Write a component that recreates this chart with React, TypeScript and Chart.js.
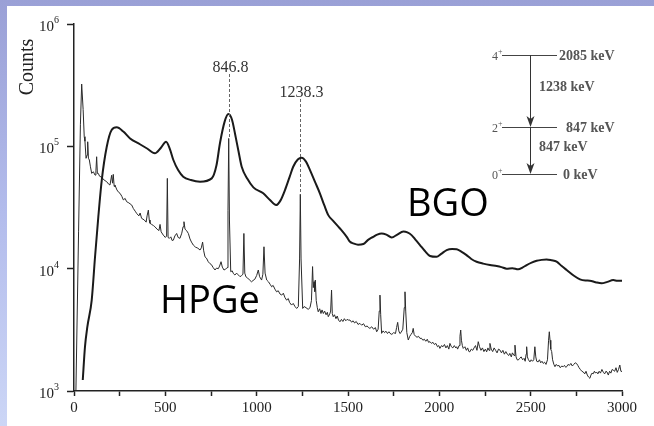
import { useEffect, useRef } from 'react';
import { Chart, registerables } from 'chart.js';

Chart.register(...registerables);

// ---- Data (energy in keV, counts) ----
const bgoPoints: [number, number][] = [
  [48, 1230], [60, 2290], [73, 3340], [97, 5540], [115, 12400], [133, 26400], [152, 53000], [179, 98700],
  [206, 136000], [234, 143000], [270, 132000], [307, 116000], [361, 104000], [400, 96000], [443, 87700],
  [475, 97000], [504, 109000], [525, 95000], [544, 77300], [570, 64000], [598, 56500], [640, 53000],
  [690, 51400], [754, 54700], [780, 70000], [799, 106000], [825, 160000], [845, 184000], [865, 165000],
  [881, 128000], [900, 92000], [918, 68100], [950, 54000], [982, 46200], [1036, 41300], [1073, 36400],
  [1106, 33100], [1130, 36000], [1155, 43900], [1180, 56000], [1200, 68100], [1225, 78000], [1246, 80700],
  [1270, 75000], [1292, 64000], [1320, 51000], [1346, 41300], [1370, 33000], [1392, 27400], [1420, 24500],
  [1456, 21300], [1493, 18200], [1511, 16600], [1529, 16100], [1555, 15700], [1584, 15900], [1610, 17200],
  [1638, 18200], [1660, 19000], [1684, 19400], [1710, 19000], [1739, 18000], [1770, 19000], [1803, 20100],
  [1825, 19800], [1848, 18800], [1870, 17200], [1894, 15600], [1920, 14000], [1949, 12700], [1985, 12500],
  [2010, 13200], [2040, 14200], [2070, 14500], [2095, 14400], [2120, 13800], [2149, 12900], [2175, 12000],
  [2204, 11400], [2240, 11000], [2277, 10700], [2314, 10500], [2340, 10300], [2368, 10000], [2400, 10100],
  [2432, 9870], [2455, 10200], [2478, 10700], [2505, 11200], [2533, 11600], [2560, 11800], [2587, 11900],
  [2615, 11700], [2642, 11400], [2670, 10500], [2697, 9750], [2735, 8800], [2770, 8180], [2800, 8000],
  [2824, 7970], [2855, 7750], [2888, 7590], [2920, 7800], [2952, 8080], [2975, 7950], [3003, 7970],
];

const hpgePoints: [number, number][] = [
  [10, 900], [25, 20000], [35, 150000], [42, 323000], [50, 200000], [56, 120000], [60, 110000], [66, 79800],
  [72, 85000], [75, 109000], [79, 80000], [84, 77300], [90, 68000], [97, 60100], [106, 62000], [115, 58200],
  [120, 63000], [124, 82200], [128, 60000], [133, 60100], [140, 57000], [152, 55800], [165, 53000],
  [179, 51400], [190, 49000], [197, 48300], [206, 58000], [211, 50000], [215, 59000], [220, 47000],
  [224, 48300], [235, 44000], [245, 42000], [252, 41300], [262, 39000], [270, 36500], [280, 37500],
  [288, 35300], [300, 34500], [316, 33100], [325, 31000], [335, 29500], [343, 28300], [355, 27000],
  [362, 28500], [370, 25800], [385, 25000], [395, 24000], [400, 27000], [407, 30100], [412, 25000],
  [416, 23500], [425, 23000], [435, 22500], [443, 22000], [455, 21000], [465, 20500], [471, 23000],
  [477, 20000], [489, 18800], [500, 18000], [507, 18500], [511, 54700], [515, 18000], [522, 17700],
  [530, 18200], [537, 17000], [544, 17100], [552, 18500], [562, 19400], [570, 18000], [580, 17700],
  [590, 19500], [597, 22000], [602, 24200], [608, 21000], [616, 20500], [626, 19400], [635, 17500],
  [643, 16500], [653, 15600], [665, 15000], [678, 14700], [690, 14200], [697, 14800], [704, 16500],
  [710, 14000], [717, 12500], [725, 12200], [735, 11400], [744, 11000], [752, 10800], [762, 10200],
  [772, 9750], [780, 10100], [790, 10000], [797, 10500], [805, 11400], [812, 10300], [821, 9750],
  [830, 9900], [838, 10200], [843, 30000], [847, 116000], [851, 25000], [858, 9450], [866, 9600],
  [873, 9100], [881, 8870], [890, 9200], [899, 8900], [909, 8600], [918, 8800], [925, 9000], [930, 19400],
  [935, 9200], [941, 8590], [950, 8400], [960, 8100], [972, 7810], [980, 8000], [990, 8200], [1000, 8800],
  [1009, 9750], [1016, 8600], [1027, 8070], [1034, 9000], [1040, 15100], [1046, 9200], [1055, 8070],
  [1065, 7800], [1075, 7400], [1082, 7110], [1090, 7300], [1100, 6800], [1109, 6470], [1118, 6600],
  [1128, 6200], [1137, 6080], [1146, 6300], [1155, 5800], [1164, 5530], [1173, 5700], [1180, 5300],
  [1191, 5040], [1200, 5200], [1210, 4900], [1219, 4730], [1228, 4900], [1235, 12000], [1239, 40600],
  [1243, 12000], [1252, 4730], [1260, 4900], [1270, 4800], [1282, 4650], [1292, 4800], [1300, 5500],
  [1306, 10400], [1310, 7000], [1314, 7820], [1318, 6500], [1321, 8070], [1326, 5500], [1332, 4800],
  [1337, 4440], [1345, 4700], [1352, 4300], [1358, 4600], [1365, 4300], [1372, 4500], [1380, 4200],
  [1387, 4400], [1392, 4050], [1400, 4250], [1405, 4500], [1410, 6690], [1414, 4300], [1419, 4050],
  [1426, 4200], [1434, 3900], [1441, 4100], [1448, 3800], [1456, 3680], [1464, 3850], [1472, 3700],
  [1480, 3900], [1488, 3750], [1495, 3850], [1502, 3800], [1511, 3800], [1520, 3650], [1528, 3750],
  [1536, 3600], [1545, 3700], [1555, 3500], [1565, 3570], [1575, 3450], [1585, 3550], [1595, 3350],
  [1605, 3400], [1612, 3300], [1620, 3250], [1630, 3350], [1640, 3200], [1650, 3300], [1657, 3050],
  [1665, 3200], [1671, 4500], [1675, 6080], [1679, 4200], [1684, 2960], [1692, 3100], [1700, 3000],
  [1708, 3080], [1716, 2950], [1724, 3050], [1730, 2960], [1740, 2900], [1750, 3000], [1760, 2950],
  [1766, 3300], [1772, 3640], [1778, 3100], [1784, 2950], [1790, 3000], [1800, 3200], [1808, 4800],
  [1812, 6470], [1816, 4500], [1822, 3000], [1830, 2610], [1838, 2800], [1845, 2900], [1852, 3000],
  [1857, 3250], [1862, 2900], [1870, 2800], [1878, 2750], [1886, 2800], [1894, 2690], [1902, 2700],
  [1910, 2600], [1918, 2650], [1926, 2550], [1934, 2650], [1941, 2500], [1949, 2530], [1957, 2450],
  [1965, 2500], [1973, 2400], [1981, 2450], [1990, 2300], [1997, 2350], [2003, 2230], [2012, 2350],
  [2020, 2300], [2028, 2400], [2036, 2250], [2044, 2350], [2052, 2200], [2058, 2450], [2066, 2300],
  [2074, 2250], [2082, 2350], [2090, 2250], [2095, 2300], [2100, 2200], [2108, 2350], [2113, 2800],
  [2117, 3150], [2121, 2600], [2126, 2350], [2131, 2230], [2140, 2300], [2148, 2150], [2155, 2250],
  [2162, 2100], [2167, 2090], [2175, 2200], [2183, 2150], [2190, 2250], [2198, 2350], [2206, 2150],
  [2213, 2530], [2220, 2300], [2228, 2150], [2236, 2250], [2244, 2100], [2252, 2200], [2259, 2090],
  [2266, 2250], [2272, 2150], [2277, 2450], [2284, 2200], [2292, 2100], [2300, 2250], [2308, 2150],
  [2316, 2050], [2324, 2200], [2332, 2160], [2340, 2050], [2348, 2150], [2356, 2000], [2364, 2100],
  [2372, 2000], [2380, 1950], [2386, 2030], [2394, 1900], [2400, 2050], [2409, 1950], [2414, 2370],
  [2420, 1900], [2426, 1800], [2432, 1790], [2440, 1850], [2448, 1900], [2456, 1800], [2464, 1850],
  [2470, 1750], [2475, 2000], [2478, 2300], [2482, 1900], [2488, 1800], [2496, 1730], [2503, 1800],
  [2510, 1750], [2517, 1800], [2523, 2300], [2528, 1900], [2533, 1750], [2541, 1730], [2548, 1800],
  [2555, 1700], [2562, 1750], [2569, 1680], [2576, 1720], [2584, 1650], [2592, 1800], [2598, 2600],
  [2602, 3050], [2606, 2600], [2610, 2200], [2615, 2100], [2620, 1800], [2627, 1650], [2633, 1580],
  [2640, 1650], [2648, 1600], [2655, 1620], [2662, 1550], [2670, 1600], [2678, 1580], [2685, 1620],
  [2692, 1560], [2697, 1580], [2705, 1650], [2712, 1620], [2720, 1680], [2728, 1600], [2736, 1650],
  [2744, 1700], [2751, 1680], [2758, 1620], [2765, 1550], [2772, 1500], [2780, 1450], [2788, 1430],
  [2796, 1380], [2803, 1450], [2810, 1350], [2817, 1300], [2824, 1270], [2830, 1350], [2836, 1400],
  [2842, 1380], [2849, 1450], [2855, 1400], [2861, 1430], [2868, 1380], [2875, 1450], [2882, 1400],
  [2890, 1500], [2898, 1420], [2905, 1380], [2912, 1450], [2918, 1430], [2925, 1350], [2932, 1450],
  [2939, 1400], [2946, 1500], [2952, 1480], [2960, 1450], [2967, 1550], [2974, 1420], [2981, 1500],
  [2988, 1630], [2994, 1450], [3003, 1440],
];

const seriesNames = ['BGO', 'HPGe'];
const yTickExponents = [3, 4, 5, 6];
const xMajorStep = 500;
const xMinorStep = 250;
const peakEnergies = [846.8, 1238.3];
const peakLabels = ['846.8', '1238.3'];
const peakTopCounts = [116000, 40600];
const levelSpins = ['4', '2', '0'];
const levelLabels = ['2085 keV', '847 keV', '0 keV'];
const transitionLabels = ['1238 keV', '847 keV'];

const SERIF = '"Liberation Serif", "Times New Roman", serif';
const SANS = '"Open Sans", "Noto Sans", sans-serif';

const overlayPlugin = {
  id: 'overlay',
  afterDraw(chart: any) {
    const ctx = chart.ctx as CanvasRenderingContext2D;
    const xs = chart.scales.x;
    const ys = chart.scales.y;
    const ca = chart.chartArea;
    ctx.save();

    // y tick labels 10^n
    ctx.fillStyle = '#222';
    ctx.textBaseline = 'alphabetic';
    for (const e of yTickExponents) {
      const py = ys.getPixelForValue(Math.pow(10, e));
      const right = ca.left - 15;
      ctx.font = `10px ${SERIF}`;
      const ew = ctx.measureText(String(e)).width;
      ctx.textAlign = 'left';
      ctx.fillText(String(e), right - ew, py - 1);
      ctx.font = `15px ${SERIF}`;
      ctx.textAlign = 'right';
      ctx.fillText('10', right - ew, py + 7);
    }

    // Axis title
    ctx.save();
    ctx.translate(ca.left - 46, ca.top + 43);
    ctx.rotate(-Math.PI / 2);
    ctx.font = `20px ${SERIF}`;
    ctx.textAlign = 'center';
    ctx.textBaseline = 'middle';
    ctx.fillStyle = '#222';
    ctx.fillText('Counts', 0, 0);
    ctx.restore();

    // peak annotations
    const labelOffsets = [44, 69];
    peakEnergies.forEach((en, i) => {
      const px = Math.round(xs.getPixelForValue(en)) + 0.5;
      const ly = ca.top + labelOffsets[i];
      ctx.font = `16px ${SERIF}`;
      ctx.textAlign = 'center';
      ctx.textBaseline = 'middle';
      ctx.fillStyle = '#333';
      ctx.fillText(peakLabels[i], px + 1, ly);
      ctx.beginPath();
      ctx.setLineDash([3, 2]);
      ctx.strokeStyle = '#666';
      ctx.lineWidth = 1;
      ctx.moveTo(px, ly + 6);
      ctx.lineTo(px, ys.getPixelForValue(peakTopCounts[i]));
      ctx.stroke();
      ctx.setLineDash([]);
    });

    // level scheme inset
    const levelYs = [ca.top + 31, ca.top + 103, ca.top + 150];
    const lx0 = ca.left + 428;
    const lx1 = ca.left + 483;
    const ax = ca.left + 456;
    ctx.strokeStyle = '#444';
    ctx.fillStyle = '#444';
    ctx.lineWidth = 1;
    levelYs.forEach((y, i) => {
      ctx.beginPath();
      ctx.moveTo(lx0, y + 0.5);
      ctx.lineTo(lx1, y + 0.5);
      ctx.stroke();
      ctx.font = `bold 14px ${SERIF}`;
      ctx.textAlign = 'left';
      ctx.textBaseline = 'middle';
      ctx.fillStyle = '#555';
      ctx.fillText(levelLabels[i], lx1 + (i === 0 ? 2 : i === 1 ? 9 : 6), y + 1);
      ctx.font = `12px ${SERIF}`;
      ctx.textAlign = 'right';
      ctx.fillText(levelSpins[i], lx0 - 4, y + 2);
      ctx.font = `8px ${SERIF}`;
      ctx.textAlign = 'left';
      ctx.fillText('+', lx0 - 4, y - 3);
    });
    for (let i = 0; i < 2; i++) {
      const y0 = levelYs[i];
      const y1 = levelYs[i + 1];
      ctx.strokeStyle = '#333';
      ctx.fillStyle = '#333';
      ctx.beginPath();
      ctx.moveTo(ax + 0.5, y0);
      ctx.lineTo(ax + 0.5, y1 - 8);
      ctx.stroke();
      ctx.beginPath();
      ctx.moveTo(ax + 0.5, y1);
      ctx.lineTo(ax - 3.5, y1 - 11);
      ctx.lineTo(ax + 0.5, y1 - 8);
      ctx.lineTo(ax + 4.5, y1 - 11);
      ctx.closePath();
      ctx.fill();
      ctx.font = `bold 14px ${SERIF}`;
      ctx.textAlign = 'left';
      ctx.textBaseline = 'middle';
      ctx.fillStyle = '#555';
      const ty = i === 0 ? (y0 + y1) / 2 - 4 : (y0 + y1) / 2 - 3;
      ctx.fillText(transitionLabels[i], ax + 9, ty);
    }

    // series names
    ctx.fillStyle = '#000';
    ctx.font = `38px ${SANS}`;
    ctx.textAlign = 'left';
    ctx.textBaseline = 'alphabetic';
    ctx.fillText(seriesNames[0], ca.left + 333, ca.top + 192);
    ctx.fillText(seriesNames[1], ca.left + 86, ca.top + 289);

    ctx.restore();
  },
};

export default function App() {
  const ref = useRef<HTMLCanvasElement | null>(null);
  useEffect(() => {
    if (!ref.current) return;
    const chart = new Chart(ref.current, {
      type: 'line',
      data: {
        datasets: [
          {
            label: seriesNames[0],
            data: bgoPoints.map(([x, y]) => ({ x, y })),
            borderColor: '#1a1a1a',
            borderWidth: 2,
            pointRadius: 0,
            cubicInterpolationMode: 'monotone',
            fill: false,
          },
          {
            label: seriesNames[1],
            data: hpgePoints.map(([x, y]) => ({ x, y })),
            borderColor: '#2a2a2a',
            borderWidth: 1,
            pointRadius: 0,
            tension: 0,
            fill: false,
          },
        ],
      },
      options: {
        animation: false,
        responsive: false,
        devicePixelRatio: 1,
        events: [],
        layout: { padding: { top: 24, right: 32, left: 0, bottom: 0 } },
        plugins: { legend: { display: false }, tooltip: { enabled: false } },
        scales: {
          x: {
            type: 'linear',
            min: 0,
            max: 3000,
            ticks: {
              stepSize: xMinorStep,
              autoSkip: false,
              maxRotation: 0,
              color: '#222',
              padding: 3,
              font: { family: SERIF, size: 15 },
              callback: (v: any) => (Number(v) % xMajorStep === 0 ? String(v) : ''),
            },
            grid: { display: true, drawOnChartArea: false, drawTicks: true, tickLength: 5, tickColor: '#222', tickWidth: 1.5 },
            border: { display: true, color: '#222', width: 1.5 },
            afterFit: (s: any) => { s.height = 35; },
          },
          y: {
            type: 'logarithmic',
            min: 1000,
            max: 1000000,
            afterBuildTicks: (s: any) => { s.ticks = yTickExponents.map((e) => ({ value: Math.pow(10, e) })); },
            ticks: { callback: () => '', autoSkip: false },
            grid: { display: true, drawOnChartArea: false, drawTicks: true, tickLength: 7, tickColor: '#222', tickWidth: 1.5 },
            border: { display: true, color: '#222', width: 1.5 },
            afterFit: (s: any) => { s.width = 74; },
          },
        },
      },
      plugins: [overlayPlugin],
    } as any);
    return () => chart.destroy();
  }, []);

  return (
    <div style={{ position: 'fixed', left: 0, top: 0, width: 654, height: 426, background: 'linear-gradient(180deg, #9aa0d6 0%, #b3bcec 50%, #ccd6f6 100%)' }}>
      <div style={{ position: 'absolute', left: 7, top: 6, right: 0, bottom: 0, background: '#fff' }} />
      <canvas ref={ref} width={654} height={426} style={{ position: 'absolute', left: 0, top: 0, display: 'block' }} />
    </div>
  );
}
